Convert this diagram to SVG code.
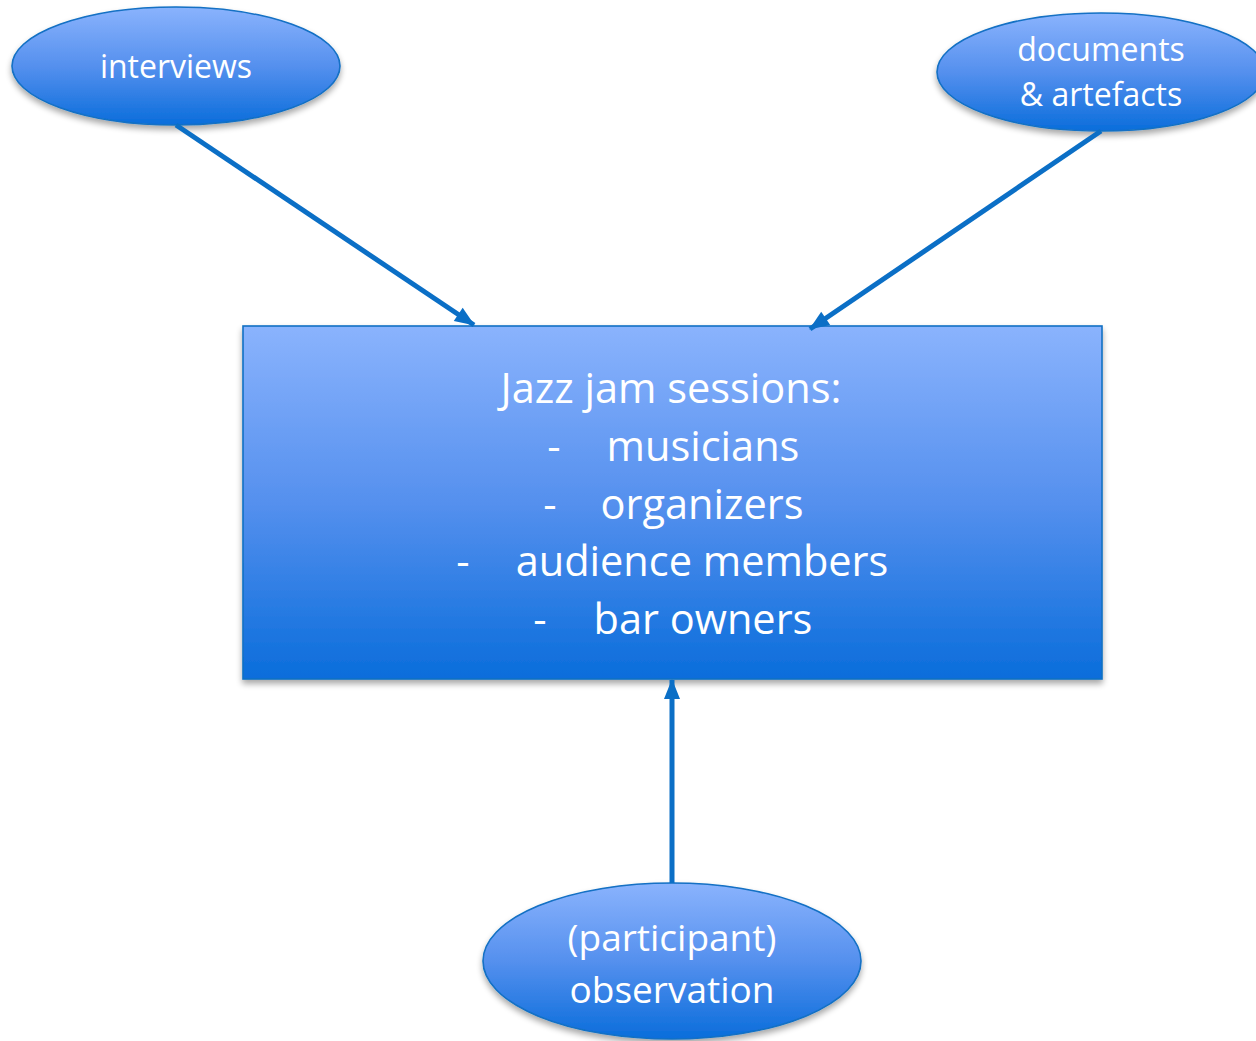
<svg xmlns="http://www.w3.org/2000/svg" width="1256" height="1041" viewBox="0 0 1256 1041">
<defs>
<linearGradient id="g" x1="0" y1="0" x2="0" y2="1">
<stop offset="0" stop-color="#8ab3fd"/>
<stop offset="0.5" stop-color="#5590ee"/>
<stop offset="1" stop-color="#0a6ddb"/>
</linearGradient>
<filter id="sh" x="-10%" y="-10%" width="120%" height="130%">
<feGaussianBlur in="SourceAlpha" stdDeviation="3"/>
<feOffset dx="0" dy="4" result="b"/>
<feComponentTransfer><feFuncA type="linear" slope="0.35"/></feComponentTransfer>
<feMerge><feMergeNode/><feMergeNode in="SourceGraphic"/></feMerge>
</filter>
<marker id="ah" viewBox="0 0 20 16" refX="19" refY="8" markerWidth="20" markerHeight="16" orient="auto" markerUnits="userSpaceOnUse" overflow="visible">
<path d="M0,0 L20,8 L0,16 z" fill="#0b6fc6"/>
</marker>
</defs>
<style>
.shape{fill:url(#g);stroke:#1270c4;stroke-width:1.6;filter:url(#sh)}
.t{font-family:"Open Sans","Noto Sans","Liberation Sans",sans-serif;fill:#ffffff;text-anchor:middle}
.s{font-size:32px}
.o{font-size:37px}
.m{font-size:41.5px}
</style>
<rect width="1256" height="1041" fill="#ffffff"/>
<g id="node-main">
<rect class="shape" x="243" y="326" width="859" height="353"/>
<text class="t m" x="671" y="403">Jazz jam sessions:</text>
<text class="t m" x="554" y="461">-</text><text class="t m" x="703" y="461">musicians</text>
<text class="t m" x="550" y="519">-</text><text class="t m" x="702" y="519">organizers</text>
<text class="t m" x="463" y="576">-</text><text class="t m" x="702" y="576">audience members</text>
<text class="t m" x="540" y="634">-</text><text class="t m" x="703" y="634">bar owners</text>
</g>
<g id="node-interviews">
<ellipse class="shape" cx="176" cy="66" rx="164" ry="59"/>
<text class="t s" x="176" y="78">interviews</text>
</g>
<g id="node-documents">
<ellipse class="shape" cx="1101" cy="72" rx="164" ry="59"/>
<text class="t s" x="1101" y="61">documents</text>
<text class="t s" x="1101" y="106">&amp; artefacts</text>
</g>
<g id="node-observation">
<ellipse class="shape" cx="672" cy="961" rx="189" ry="78"/>
<text class="t o" x="672" y="951">(participant)</text>
<text class="t o" x="672" y="1003">observation</text>
</g>
<g id="connectors" stroke="#0b6fc6" stroke-width="5" fill="none">
<path d="M176,125 L474,325" marker-end="url(#ah)"/>
<path d="M1101,131 L810,329" marker-end="url(#ah)"/>
<path d="M672,883 L672,680" marker-end="url(#ah)"/>
</g>
</svg>
